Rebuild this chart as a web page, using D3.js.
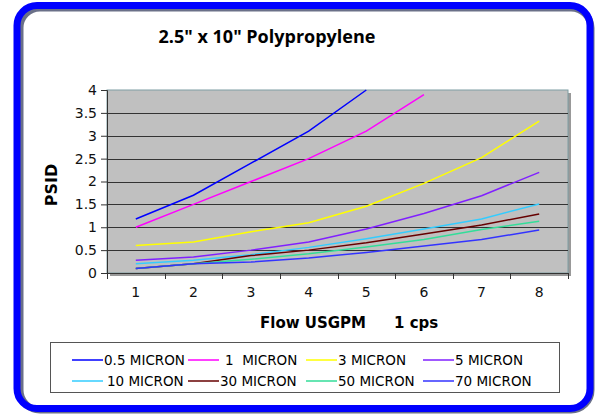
<!DOCTYPE html>
<html>
<head>
<meta charset="utf-8">
<script src="https://cdn.jsdelivr.net/npm/d3@7"></script>
<style>
  body { margin: 0; background: #fff; }
  text { font-family: "DejaVu Sans", sans-serif; }
</style>
</head>
<body>
<div id="chart"></div>
<script>
// data
var flows = ["1", "2", "3", "4", "5", "6", "7", "8"];
var seriesNames = ["0.5 MICRON", "1  MICRON", "3 MICRON", "5 MICRON",
                   "10 MICRON", "30 MICRON", "50 MICRON", "70 MICRON"];
var seriesColors = ["#0000ff", "#ff00ff", "#ffff00", "#8020ff",
                    "#33ccff", "#660000", "#33dd99", "#3333ff"];
var micron05 = [1.18, 1.7, 2.4, 3.1, 4.0];
var micron1 = [1.0, 1.5, 2.0, 2.5, 3.1, 3.9];
var micron3 = [0.6, 0.68, 0.9, 1.1, 1.46, 1.96, 2.52, 3.32];
var micron5 = [0.28, 0.35, 0.5, 0.68, 0.96, 1.3, 1.69, 2.2];
var micron10 = [0.2, 0.28, 0.4, 0.56, 0.75, 0.96, 1.18, 1.51];
var micron30 = [0.1, 0.2, 0.38, 0.5, 0.66, 0.85, 1.05, 1.29];
var micron50 = [0.1, 0.2, 0.3, 0.42, 0.57, 0.73, 0.95, 1.13];
var micron70 = [0.1, 0.2, 0.24, 0.33, 0.45, 0.59, 0.73, 0.94];
var yTicks = [0, 0.5, 1, 1.5, 2, 2.5, 3, 3.5, 4];

var allSeries = [micron05, micron1, micron3, micron5, micron10, micron30, micron50, micron70];

var svgWidth = 600, svgHeight = 415;
var plot = { left: 107, top: 90, right: 568, bottom: 273 };

var svg = d3.select("#chart").append("svg")
  .attr("width", svgWidth)
  .attr("height", svgHeight);

// outer frame with shadow
svg.append("rect")
  .attr("x", 20).attr("y", 8)
  .attr("width", 571).attr("height", 402)
  .attr("rx", 20)
  .attr("fill", "none")
  .attr("stroke", "#6a7088")
  .attr("stroke-width", 7);
svg.append("rect")
  .attr("x", 17).attr("y", 5.5)
  .attr("width", 573).attr("height", 403)
  .attr("rx", 20)
  .attr("fill", "none")
  .attr("stroke", "#0000ff")
  .attr("stroke-width", 7);

// title
svg.append("text")
  .attr("x", 267).attr("y", 43)
  .attr("text-anchor", "middle")
  .attr("font-size", "18px")
  .attr("font-weight", "bold")
  .style("font-family", "'Open Sans', sans-serif")
  .text('2.5" x 10" Polypropylene');

var x = d3.scaleBand()
  .domain(flows)
  .range([plot.left, plot.right]);

var y = d3.scaleLinear()
  .domain([0, 4])
  .range([plot.bottom, plot.top]);

// plot area shadow + background
svg.append("rect")
  .attr("x", plot.left + 3).attr("y", plot.top + 3)
  .attr("width", plot.right - plot.left).attr("height", plot.bottom - plot.top)
  .attr("fill", "#999");
svg.append("rect")
  .attr("x", plot.left).attr("y", plot.top)
  .attr("width", plot.right - plot.left).attr("height", plot.bottom - plot.top)
  .attr("fill", "#c0c0c0")
  .attr("stroke", "#7f9ea3")
  .attr("stroke-width", 1);

// gridlines
svg.append("g")
  .selectAll("line")
  .data(yTicks.filter(d => d > 0 && d < 4))
  .enter()
  .append("line")
  .attr("x1", plot.left).attr("x2", plot.right)
  .attr("y1", d => Math.round(y(d)) + 0.5)
  .attr("y2", d => Math.round(y(d)) + 0.5)
  .attr("stroke", "#333")
  .attr("stroke-width", 1);

// y axis
var leftAxis = d3.axisLeft(y).tickValues(yTicks).tickSize(6).tickPadding(4)
  .tickFormat(d3.format("~g"));
var yAxis = svg.append("g")
  .attr("transform", `translate(${plot.left}, 0)`)
  .call(leftAxis);
yAxis.select(".domain").attr("stroke", "#333");
yAxis.selectAll(".tick line").attr("stroke", "#333");
yAxis.selectAll("text")
  .attr("font-size", "14px")
  .attr("fill", "#111")
  .style("font-family", "'DejaVu Sans', sans-serif");

// x axis: ticks at category boundaries
var xAxis = svg.append("g")
  .attr("transform", `translate(0, ${plot.bottom})`);
xAxis.append("line")
  .attr("x1", plot.left).attr("x2", plot.right)
  .attr("y1", 0.5).attr("y2", 0.5)
  .attr("stroke", "#333");
xAxis.selectAll(".bound")
  .data(flows)
  .enter()
  .append("line")
  .attr("class", "bound")
  .attr("x1", d => Math.round(x(d)) + 0.5)
  .attr("x2", d => Math.round(x(d)) + 0.5)
  .attr("y1", 0).attr("y2", 6)
  .attr("stroke", "#333");
xAxis.append("line")
  .attr("x1", plot.right + 0.5).attr("x2", plot.right + 0.5)
  .attr("y1", 0).attr("y2", 6)
  .attr("stroke", "#333");
xAxis.selectAll(".lbl")
  .data(flows)
  .enter()
  .append("text")
  .attr("class", "lbl")
  .attr("x", d => x(d) + x.bandwidth() / 2)
  .attr("y", 24)
  .attr("text-anchor", "middle")
  .attr("font-size", "14px")
  .attr("fill", "#111")
  .text(d => d);

// lines
var line = d3.line()
  .x((d, i) => x(flows[i]) + x.bandwidth() / 2)
  .y(d => y(d));

svg.append("g")
  .selectAll("path")
  .data(allSeries)
  .enter()
  .append("path")
  .attr("d", d => line(d))
  .attr("fill", "none")
  .attr("stroke", (d, i) => seriesColors[i])
  .attr("stroke-width", 1.5);

// axis titles
svg.append("text")
  .attr("transform", "translate(57, 185) rotate(-90)")
  .attr("text-anchor", "middle")
  .attr("font-size", "16px")
  .attr("font-weight", "bold")
  .text("PSID");

svg.append("text")
  .attr("x", 260).attr("y", 328)
  .attr("font-size", "15px")
  .attr("font-weight", "bold")
  .text("Flow USGPM");
svg.append("text")
  .attr("x", 394).attr("y", 328)
  .attr("font-size", "15px")
  .attr("font-weight", "bold")
  .text("1 cps");

// legend
var legend = svg.append("g");
legend.append("rect")
  .attr("x", 50.5).attr("y", 342.5)
  .attr("width", 509).attr("height", 50)
  .attr("fill", "#fff")
  .attr("stroke", "#555");

var colX = [72, 188, 306, 423];
var rowY = [360, 381];
var items = legend.selectAll(".item")
  .data(seriesNames)
  .enter()
  .append("g")
  .attr("class", "item")
  .attr("transform", (d, i) => `translate(${colX[i % 4]}, ${rowY[Math.floor(i / 4)]})`);
items.append("line")
  .attr("x1", 0).attr("x2", 31)
  .attr("y1", 0).attr("y2", 0)
  .attr("stroke", (d, i) => seriesColors[i])
  .attr("stroke-width", 1.5);
items.append("text")
  .attr("x", (d, i) => i == 1 ? 37 : (i == 4 ? 35 : 32))
  .attr("y", 5)
  .attr("font-size", "13.5px")
  .style("white-space", "pre")
  .text(d => d);
</script>
</body>
</html>
